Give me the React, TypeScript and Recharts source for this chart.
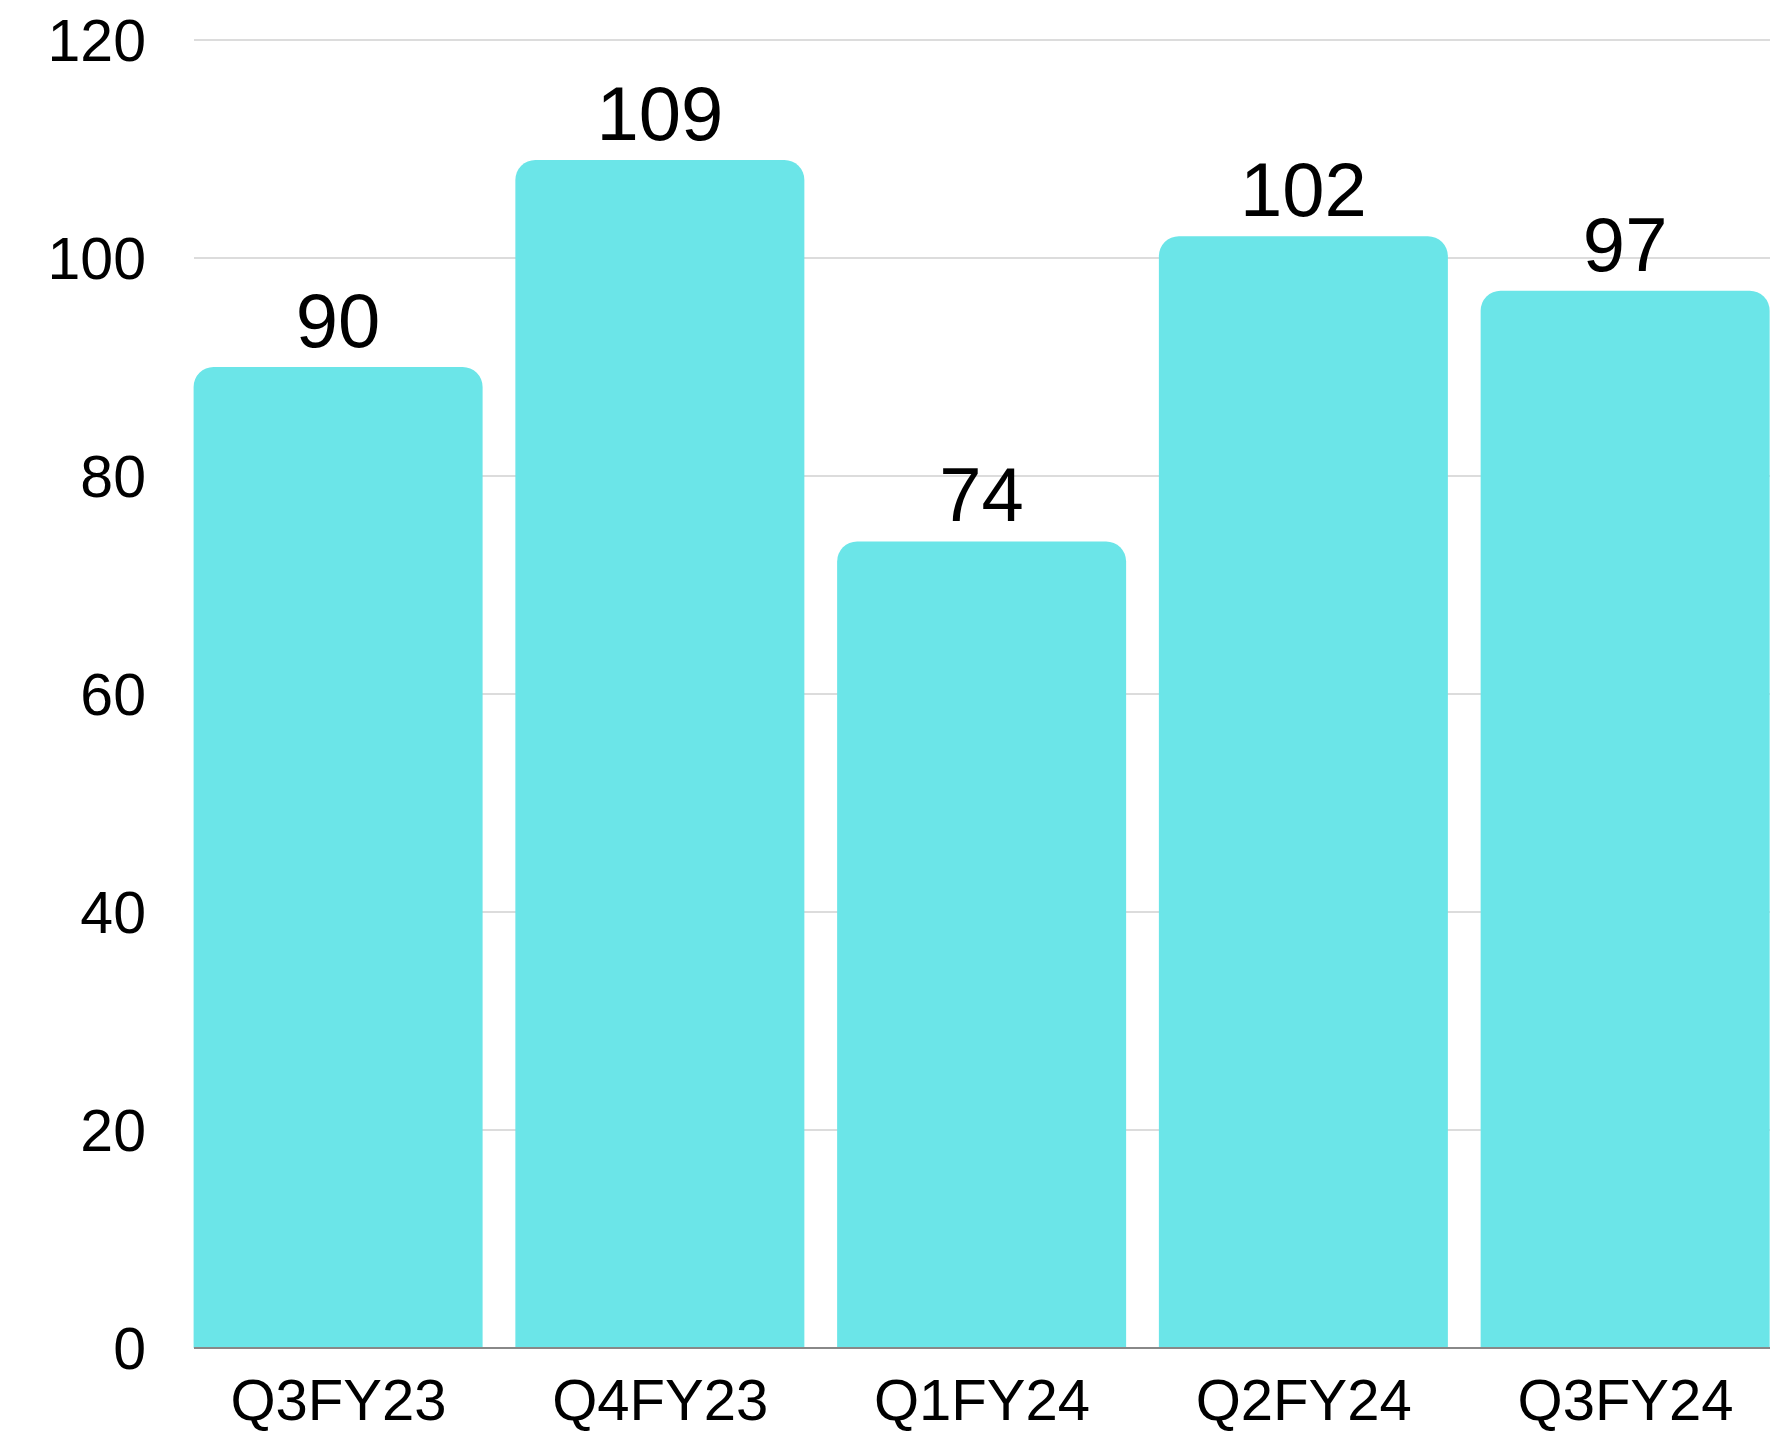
import { BarChart, Bar, XAxis, YAxis, CartesianGrid, LabelList } from "recharts";

const quarters = ["Q3FY23", "Q4FY23", "Q1FY24", "Q2FY24", "Q3FY24"];
const values = [90, 109, 74, 102, 97];
const yTicks = [0, 20, 40, 60, 80, 100, 120];

const data = quarters.map((q, i) => ({ quarter: q, value: values[i] }));

const font = "'Liberation Sans', Arial, sans-serif";

export default function App() {
  return (
    <div style={{ position: "absolute", left: 0, top: 0, background: "#fff" }}>
      <BarChart
        width={1791}
        height={1435}
        data={data}
        margin={{ top: 40, right: 21, bottom: 0, left: 0 }}
      >
        <CartesianGrid vertical={false} stroke="#d0d0d0" strokeWidth={1.5} />
        <XAxis
          dataKey="quarter"
          height={87}
          padding={{ left: -16.4, right: -16.4 }}
          tickLine={false}
          tickSize={0}
          tickMargin={31}
          axisLine={{ stroke: "#888", strokeWidth: 2 }}
          tick={{ fill: "#000", fontSize: 58, fontFamily: font }}
        />
        <YAxis
          width={194}
          domain={[0, 120]}
          ticks={yTicks}
          axisLine={false}
          tickLine={false}
          tickSize={0}
          tickMargin={48}
          tick={{ fill: "#000", fontSize: 59, fontFamily: font }}
        />
        <Bar
          dataKey="value"
          fill="#6be5e8"
          barSize={289}
          radius={[20, 20, 0, 0]}
          isAnimationActive={false}
        >
          <LabelList
            dataKey="value"
            position="top"
            offset={20}
            fill="#000"
            fontSize={76}
            fontFamily={font}
          />
        </Bar>
      </BarChart>
    </div>
  );
}
